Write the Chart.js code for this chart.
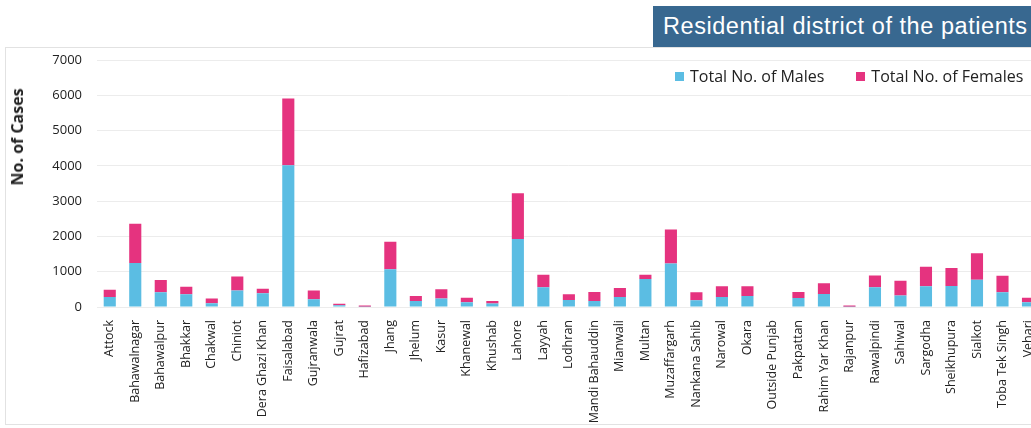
<!DOCTYPE html>
<html>
<head>
<meta charset="utf-8">
<script src="https://cdn.jsdelivr.net/npm/chart.js@4"></script>
<style>
  html, body { margin: 0; padding: 0; background: #fff; width: 1031px; height: 428px; overflow: hidden; }
  #frame { position: absolute; left: 5px; top: 47px; width: 1040px; height: 378px; border: 1px solid #e2e2e2; box-sizing: border-box; }
  #header { position: absolute; left: 653px; top: 6px; width: 390px; height: 41px; background: #386890; color: #fff;
            font-family: "Liberation Sans", Arial, sans-serif; font-size: 23.5px; letter-spacing: 0.55px; line-height: 41px; padding-left: 10px; box-sizing: border-box; white-space: nowrap; }
  #wrap { position: absolute; left: 0; top: 0; width: 1048px; height: 428px; }
  #ytitle { position: absolute; left: 17px; top: 137px; transform: translate(-50%, -50%) rotate(-90deg);
            font-family: "Open Sans", sans-serif; font-weight: bold; font-size: 16px; color: #222; white-space: nowrap; }
  #legend { position: absolute; top: 65px; left: 675px; font-family: "Open Sans", sans-serif; font-size: 16px; color: #222; white-space: nowrap; }
  #legend span.sw { display: inline-block; width: 9px; height: 9px; margin-right: 6px; vertical-align: 1px; }
  #legend span.item { margin-right: 32px; }
</style>
</head>
<body>
<div id="frame"></div>
<div id="header">Residential district of the patients</div>
<div id="wrap"><canvas id="c"></canvas></div>
<div id="ytitle">No. of Cases</div>
<div id="legend"></div>
<script>
const categories = ["Attock","Bahawalnagar","Bahawalpur","Bhakkar","Chakwal","Chiniot","Dera Ghazi Khan","Faisalabad","Gujranwala","Gujrat","Hafizabad","Jhang","Jhelum","Kasur","Khanewal","Khushab","Lahore","Layyah","Lodhran","Mandi Bahauddin","Mianwali","Multan","Muzaffargarh","Nankana Sahib","Narowal","Okara","Outside Punjab","Pakpattan","Rahim Yar Khan","Rajanpur","Rawalpindi","Sahiwal","Sargodha","Sheikhupura","Sialkot","Toba Tek Singh","Vehari"];
const males   = [280,1250,415,360,105,465,390,4020,220,50,10,1070,170,240,135,100,1925,560,200,170,285,790,1235,190,285,310,0,255,370,10,560,325,585,595,775,415,135];
const females = [210,1110,350,215,135,400,130,1890,245,45,30,780,140,260,130,70,1300,355,160,255,250,125,960,225,300,275,0,170,300,30,330,420,555,510,750,470,130];
const seriesNames = ["Total No. of Males","Total No. of Females"];
const seriesColors = ["#5bbde3","#e5337f"];
const yMax = 7000, yStep = 1000;

const lg = document.getElementById('legend');
seriesNames.forEach((n,i)=>{
  const s = document.createElement('span'); s.className='item';
  s.innerHTML = '<span class="sw" style="background:'+seriesColors[i]+'"></span>'+n;
  lg.appendChild(s);
});

new Chart(document.getElementById('c'), {
  type: 'bar',
  data: {
    labels: categories,
    datasets: [
      { label: seriesNames[0], data: males, backgroundColor: seriesColors[0], barPercentage: 0.5, categoryPercentage: 0.95 },
      { label: seriesNames[1], data: females, backgroundColor: seriesColors[1], barPercentage: 0.5, categoryPercentage: 0.95 }
    ]
  },
  options: {
    responsive: true, maintainAspectRatio: false, animation: false,
    layout: { padding: { top: 60, left: 0, right: 0, bottom: 0 } },
    plugins: { legend: { display: false }, tooltip: { enabled: false } },
    scales: {
      x: {
        stacked: true,
        grid: { display: false },
        border: { display: false },
        ticks: { autoSkip: false, maxRotation: 90, minRotation: 90, padding: 5, color: '#222',
                 font: { family: 'Open Sans', size: 12.5 } },
        afterFit: s => { s.height = 121; }
      },
      y: {
        stacked: true, min: 0, max: yMax,
        grid: { color: '#ececec', drawTicks: false },
        border: { display: false },
        ticks: { stepSize: yStep, padding: 15, color: '#222', font: { family: 'Open Sans', size: 13 },
                 callback: v => String(v) },
        afterFit: s => { s.width = 97; }
      }
    }
  }
});
</script>
</body>
</html>
